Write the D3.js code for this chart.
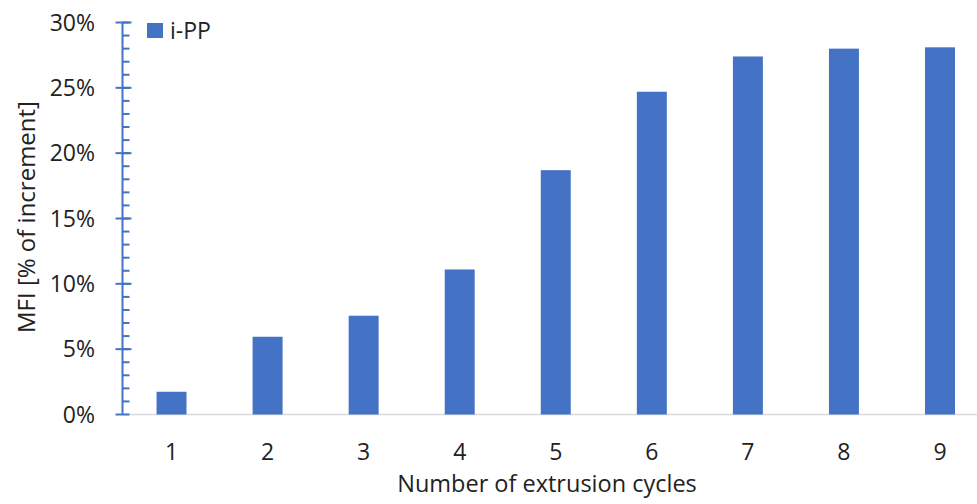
<!DOCTYPE html>
<html><head><meta charset="utf-8">
<script src="https://cdn.jsdelivr.net/npm/d3@7"></script>
<style>body{margin:0;background:#fff}svg{display:block}text{font-family:"Open Sans",sans-serif;fill:#222}</style>
</head><body>
<svg id="c" width="977" height="504"></svg>
<script>
const categories = ["1","2","3","4","5","6","7","8","9"];
const values = [0.0174, 0.0595, 0.0756, 0.111, 0.187, 0.247, 0.274, 0.280, 0.281];
const yTicks = [0, 0.05, 0.10, 0.15, 0.20, 0.25, 0.30];
const minorTicks = d3.range(0, 0.3001, 0.01);
const seriesName = "i-PP";
const xTitle = "Number of extrusion cycles";
const yTitle = "MFI [% of increment]";

const svg = d3.select("#c");
const axisX = 122.5, plotTop = 22.5, plotBottom = 414.5;
const x = d3.scaleBand().domain(categories).range([axisX + 1, axisX + 1 + 9 * 96.06]).paddingInner(0.688).paddingOuter(0.344);
const y = d3.scaleLinear().domain([0, 0.30]).range([plotBottom, plotTop]);
const blue = "#4472C4";

// x axis line
svg.append("line").attr("x1", axisX).attr("x2", 977).attr("y1", plotBottom).attr("y2", plotBottom)
  .attr("stroke", "#d9d9d9").attr("stroke-width", 1.5);

// bars
svg.selectAll("rect.bar").data(values).join("rect").attr("class", "bar")
  .attr("x", (d, i) => x(categories[i])).attr("width", x.bandwidth())
  .attr("y", d => y(d)).attr("height", d => plotBottom - y(d)).attr("fill", blue);

// y axis
const g = svg.append("g");
g.append("line").attr("x1", axisX).attr("x2", axisX).attr("y1", plotTop).attr("y2", plotBottom)
  .attr("stroke", blue).attr("stroke-width", 2);
g.selectAll("line.minor").data(minorTicks).join("line").attr("class", "minor")
  .attr("x1", axisX).attr("x2", axisX + 7).attr("y1", d => y(d)).attr("y2", d => y(d))
  .attr("stroke", blue).attr("stroke-width", 2);
g.selectAll("line.major").data(yTicks).join("line").attr("class", "major")
  .attr("x1", axisX - 7).attr("x2", d => d === 0 ? axisX : axisX + 9).attr("y1", d => y(d)).attr("y2", d => y(d))
  .attr("stroke", blue).attr("stroke-width", 2);
g.selectAll("text.yl").data(yTicks).join("text").attr("class", "yl")
  .attr("x", 95).attr("y", d => y(d)).attr("dy", "0.36em").attr("text-anchor", "end")
  .style("font-size", "23px").text(d => d3.format(".0%")(d));

// x labels
svg.selectAll("text.xl").data(categories).join("text").attr("class", "xl")
  .attr("x", d => x(d) + x.bandwidth() / 2).attr("y", 452).attr("dy", "0.36em")
  .attr("text-anchor", "middle").style("font-size", "23px").text(d => d);

// titles
svg.append("text").attr("x", 547).attr("y", 492)
  .attr("text-anchor", "middle").style("font-size", "23.5px").text(xTitle);
svg.append("text").attr("transform", "translate(26,217) rotate(-90)").attr("dy", "0.36em")
  .attr("text-anchor", "middle").style("font-size", "24px").text(yTitle);

// legend
svg.append("rect").attr("x", 147).attr("y", 23).attr("width", 16).attr("height", 15).attr("fill", blue);
svg.append("text").attr("x", 170).attr("y", 30.5).attr("dy", "0.36em").style("font-size", "23px").text(seriesName);
</script>
</body></html>
